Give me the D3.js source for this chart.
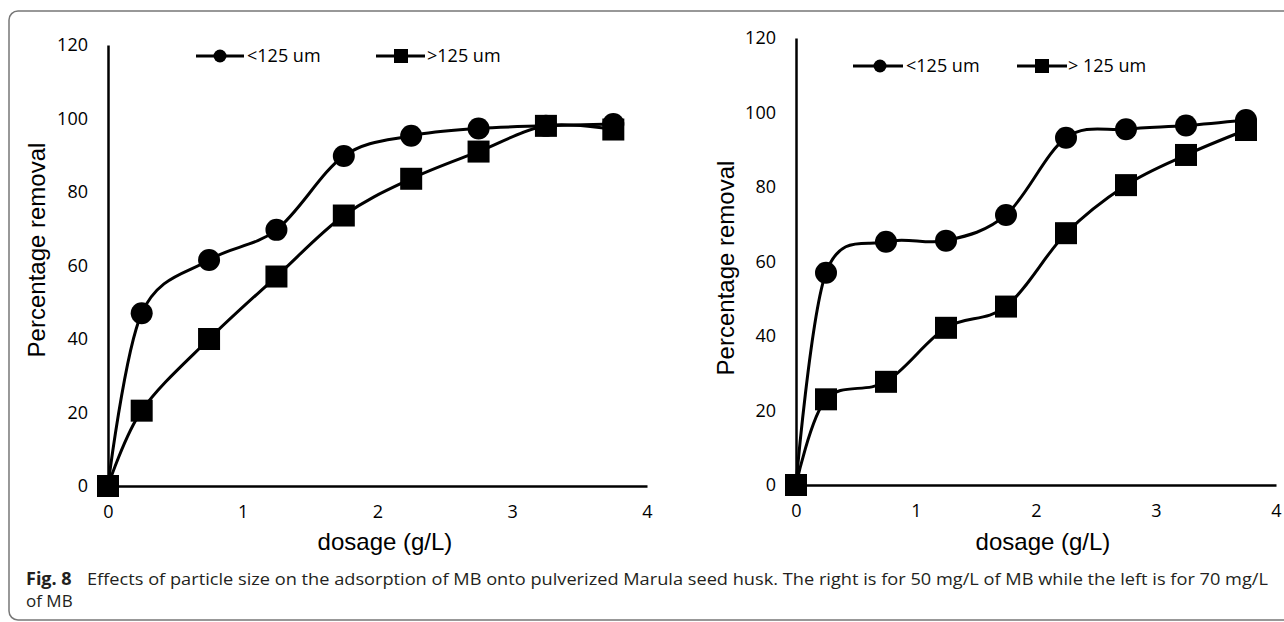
<!DOCTYPE html>
<html>
<head>
<meta charset="utf-8">
<script src="https://cdn.jsdelivr.net/npm/d3@7"></script>
<style>
  html, body { margin: 0; padding: 0; background: #fff; }
  svg { display: block; }
</style>
</head>
<body>
<svg id="chart" width="1284" height="622"></svg>
<script>
// ---------- data ----------
const dosage = [0, 0.25, 0.75, 1.25, 1.75, 2.25, 2.75, 3.25, 3.75];
const leftSmall  = [0, 47, 61.5, 69.7, 89.8, 95.3, 97.3, 98, 98.5];
const leftLarge  = [0, 20.5, 40, 57, 73.6, 83.6, 91, 98, 97];
const rightSmall = [0, 57, 65.3, 65.6, 72.5, 93.2, 95.5, 96.5, 98];
const rightLarge = [0, 23, 27.7, 42.2, 47.9, 67.6, 80.5, 88.6, 95.3];
const xTicks = [0, 1, 2, 3, 4];
const yTicks = [0, 20, 40, 60, 80, 100, 120];
const leftLegend = ["<125 um", ">125 um"];
const rightLegend = ["<125 um", "> 125 um"];
const xTitle = "dosage (g/L)";
const yTitle = "Percentage removal";
const captionBold = "Fig. 8";
const captionLine1 = "Effects of particle size on the adsorption of MB onto pulverized Marula seed husk. The right is for 50 mg/L of MB while the left is for 70 mg/L";
const captionLine2 = "of MB";

// ---------- layout ----------
const svg = d3.select("#chart");
const tickFont = "'Open Sans', sans-serif";
const titleFont = "'Liberation Sans', Arial, sans-serif";

// frame
svg.append("rect")
  .attr("x", 9).attr("y", 11)
  .attr("width", 1300).attr("height", 609)
  .attr("rx", 9).attr("ry", 9)
  .attr("fill", "none").attr("stroke", "#777").attr("stroke-width", 1.5);

const panels = [
  { x0: 108, x1: 647, yb: 486, yt: 45, small: leftSmall, large: leftLarge, legend: leftLegend,
    leg: { y: 56, c: 220, lineA: 196, lineB: 244, t1: 247, s: 401, lineC: 376, lineD: 425, t2: 427 },
    yTitleX: 45, yTitleY: 250, xTitleX: 385, xTitleY: 550 },
  { x0: 796, x1: 1276, yb: 485, yt: 38, small: rightSmall, large: rightLarge, legend: rightLegend,
    leg: { y: 66, c: 880, lineA: 853, lineB: 903, t1: 906, s: 1042, lineC: 1017, lineD: 1067, t2: 1068 },
    yTitleX: 734, yTitleY: 268, xTitleX: 1043, xTitleY: 550 }
];

panels.forEach(p => {
  const g = svg.append("g");
  const x = d3.scaleLinear().domain([0, 4]).range([p.x0, p.x1]);
  const y = d3.scaleLinear().domain([0, 120]).range([p.yb, p.yt]);

  // axes
  const yAxis = g.append("g").attr("transform", `translate(${p.x0},0)`)
    .call(d3.axisLeft(y).tickValues(yTicks).tickFormat(d3.format("d")).tickSize(0).tickPadding(20));
  const xAxis = g.append("g").attr("transform", `translate(0,${p.yb})`)
    .call(d3.axisBottom(x).tickValues(xTicks).tickFormat(d3.format("d")).tickSize(0).tickPadding(19));
  [yAxis, xAxis].forEach(a => {
    a.select(".domain").attr("stroke", "#000").attr("stroke-width", 2.5);
    a.selectAll("text").attr("font-family", tickFont).attr("font-size", 18).attr("fill", "#000");
  });

  // titles
  g.append("text")
    .attr("transform", `translate(${p.yTitleX},${p.yTitleY}) rotate(-90)`)
    .attr("text-anchor", "middle")
    .attr("font-family", titleFont).attr("font-size", 24).attr("fill", "#000")
    .text(yTitle);
  g.append("text")
    .attr("x", p.xTitleX).attr("y", p.xTitleY)
    .attr("text-anchor", "middle")
    .attr("font-family", titleFont).attr("font-size", 24).attr("fill", "#000")
    .text(xTitle);

  const line = d3.line()
    .x((d, i) => x(dosage[i]))
    .y(d => y(d))
    .curve(d3.curveCardinal.tension(0));

  // series 1: circles
  g.append("path").datum(p.small)
    .attr("d", line).attr("fill", "none").attr("stroke", "#000").attr("stroke-width", 3);
  g.selectAll(".c").data(p.small).enter().append("circle")
    .attr("cx", (d, i) => x(dosage[i])).attr("cy", d => y(d)).attr("r", 11).attr("fill", "#000");

  // series 2: squares
  g.append("path").datum(p.large)
    .attr("d", line).attr("fill", "none").attr("stroke", "#000").attr("stroke-width", 3);
  g.selectAll(".s").data(p.large).enter().append("rect")
    .attr("x", (d, i) => x(dosage[i]) - 11).attr("y", d => y(d) - 11)
    .attr("width", 22).attr("height", 22).attr("fill", "#000");

  // legend
  const L = p.leg;
  g.append("line").attr("x1", L.lineA).attr("x2", L.lineB).attr("y1", L.y).attr("y2", L.y)
    .attr("stroke", "#000").attr("stroke-width", 3);
  g.append("circle").attr("cx", L.c).attr("cy", L.y).attr("r", 6.5).attr("fill", "#000");
  g.append("text").attr("x", L.t1).attr("y", L.y).attr("dy", "0.35em")
    .attr("font-family", tickFont).attr("font-size", 18).attr("fill", "#000").text(p.legend[0]);
  g.append("line").attr("x1", L.lineC).attr("x2", L.lineD).attr("y1", L.y).attr("y2", L.y)
    .attr("stroke", "#000").attr("stroke-width", 3);
  g.append("rect").attr("x", L.s - 7).attr("y", L.y - 7).attr("width", 14).attr("height", 14).attr("fill", "#000");
  g.append("text").attr("x", L.t2).attr("y", L.y).attr("dy", "0.35em")
    .attr("font-family", tickFont).attr("font-size", 18).attr("fill", "#000").text(p.legend[1]);
});

// caption
svg.append("text").attr("x", 26).attr("y", 585)
  .attr("font-family", tickFont).attr("font-weight", "bold").attr("font-size", 18).attr("fill", "#231f20")
  .text(captionBold);
svg.append("text").attr("x", 87).attr("y", 585)
  .attr("font-family", tickFont).attr("font-size", 17).attr("fill", "#231f20")
  .attr("textLength", 1181).attr("lengthAdjust", "spacingAndGlyphs")
  .text(captionLine1);
svg.append("text").attr("x", 26).attr("y", 607)
  .attr("font-family", tickFont).attr("font-size", 17).attr("fill", "#231f20")
  .text(captionLine2);
</script>
</body>
</html>
